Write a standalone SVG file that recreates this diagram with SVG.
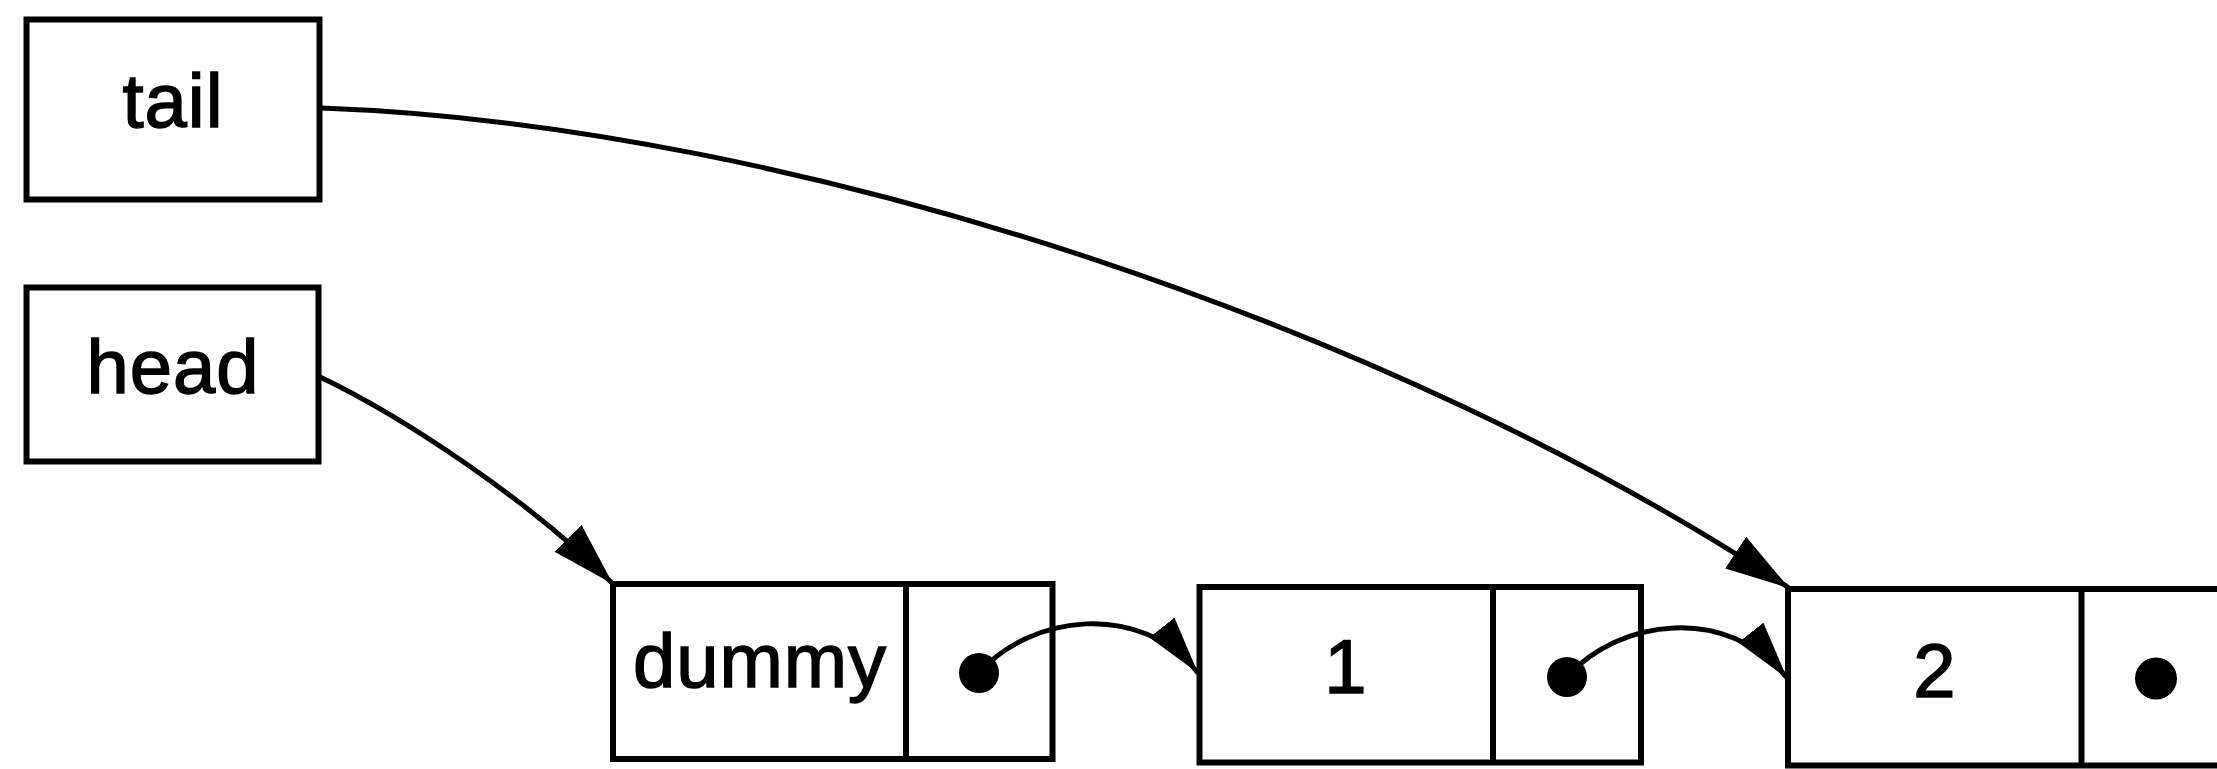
<svg xmlns="http://www.w3.org/2000/svg" width="2217" height="769" viewBox="0 0 2217 769">
  <style>
    .box { fill: #ffffff; stroke: #000000; stroke-width: 6; }
    .div { stroke: #000000; stroke-width: 6; }
    .lbl { font-family: "Liberation Sans", Arial, sans-serif; font-size: 76px; fill: #000000; stroke: #000000; stroke-width: 1.5; letter-spacing: 1px; text-anchor: middle; }
    .conn { fill: none; stroke: #000000; stroke-width: 5; }
    .dot { fill: #000000; }
  </style>
  <defs>
    <marker id="ahBig" markerUnits="userSpaceOnUse" markerWidth="66" markerHeight="38" refX="64" refY="19" orient="auto" viewBox="0 0 66 38">
      <path d="M0,0 L64,19 L0,38 z" fill="#000000"/>
    </marker>
    <marker id="ahSmall" markerUnits="userSpaceOnUse" markerWidth="60" markerHeight="32" refX="58" refY="16" orient="auto" viewBox="0 0 60 32">
      <path d="M0,0 L58,16 L0,32 z" fill="#000000"/>
    </marker>
  </defs>

  <g id="tail">
    <rect class="box" x="26.5" y="19.5" width="293" height="180"/>
    <text class="lbl" x="173" y="127">tail</text>
  </g>

  <g id="head">
    <rect class="box" x="26.5" y="287.5" width="292" height="174"/>
    <text class="lbl" x="173" y="393">head</text>
  </g>

  <g id="dummy">
    <rect class="box" x="613" y="584" width="439.5" height="175"/>
    <line class="div" x1="906" y1="584" x2="906" y2="759"/>
    <text class="lbl" x="760" y="687">dummy</text>
    <circle class="dot" cx="979" cy="673" r="20"/>
  </g>

  <g id="node1">
    <rect class="box" x="1199.5" y="587" width="441.5" height="175.5"/>
    <line class="div" x1="1493" y1="587" x2="1493" y2="762.5"/>
    <text class="lbl" x="1346" y="693">1</text>
    <circle class="dot" cx="1567" cy="677" r="20"/>
  </g>

  <g id="node2">
    <rect class="box" x="1788" y="589" width="442" height="176.5"/>
    <line class="div" x1="2081.5" y1="589" x2="2081.5" y2="765.5"/>
    <text class="lbl" x="1935" y="697">2</text>
    <circle class="dot" cx="2156" cy="678.5" r="21"/>
  </g>

  <g id="connectors">
    <path class="conn" d="M321,108 C800,125 1400,330 1789,588" marker-end="url(#ahBig)"/>
    <path class="conn" d="M320,377 C400,415 530,500 613,584" marker-end="url(#ahBig)"/>
    <path class="conn" d="M979,673 C1030,615 1140,600 1198,673" marker-end="url(#ahSmall)"/>
    <path class="conn" d="M1567,677 C1618,619 1728,604 1787,678" marker-end="url(#ahSmall)"/>
  </g>
</svg>
